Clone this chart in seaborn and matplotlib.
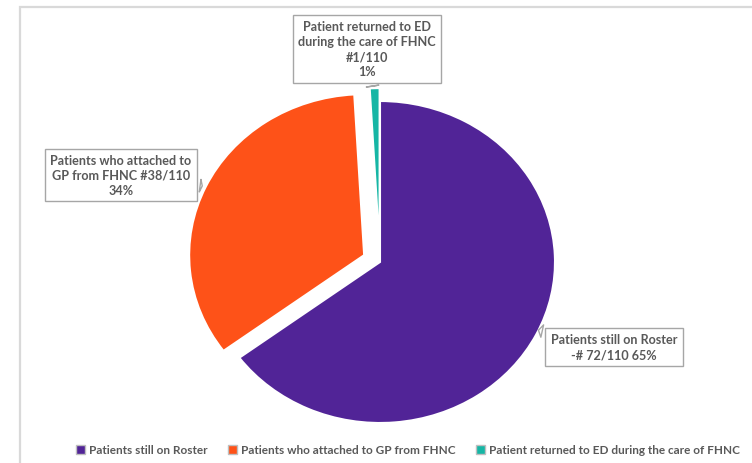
import matplotlib
matplotlib.use("Agg")
import matplotlib.pyplot as plt
import seaborn as sns
import numpy as np
from matplotlib.patches import Rectangle, Patch

# ---- data ----
categories = ["Patients still on Roster",
              "Patients who attached to GP from FHNC",
              "Patient returned to ED during the care of FHNC"]
values = [72, 38, 1]
label_texts = ["Patients still on Roster\n-# 72/110 65%",
               "Patients who attached to\nGP from FHNC #38/110\n34%",
               "Patient returned to ED\nduring the care of FHNC\n#1/110\n1%"]
colors = ["#512497", "#FE5218", "#16B6A5"]
explode = [0.0, 0.1, 0.08]

sns.set_theme(style="white")
plt.rcParams['font.family'] = ['Lato', 'DejaVu Sans']
TXT = "#595959"

W, H = 752, 464
fig = plt.figure(figsize=(W / 100, H / 100), dpi=100)

# chart frame
fig.patches.append(Rectangle((20 / W, -0.2), 1.2, 1 - 8 / H + 0.2, transform=fig.transFigure,
                             fill=False, ec="#D9D9D9", lw=1.6, zorder=0))

cx, cy = 380, H - 263
rx, ry = 175, 161
lim = 1.25
ax = fig.add_axes([(cx - lim * rx) / W, (cy - lim * ry) / H, 2 * lim * rx / W, 2 * lim * ry / H])
wedges, _ = ax.pie(values, colors=colors, startangle=90, counterclock=False,
                   explode=explode, wedgeprops=dict(edgecolor="white", linewidth=1.5))
ax.set_aspect("auto")
ax.set_xlim(-lim, lim)
ax.set_ylim(-lim, lim)
ax.axis("off")

# callouts
text_pos = [(614, H - 348), (121, H - 176), (367, H - 50)]
targets = [(0.89, -0.42), (-1.0, 0.47), (-0.04, 1.075)]
for lab, tp, tg in zip(label_texts, text_pos, targets):
    ax.annotate(lab, xy=tg, xycoords="data", xytext=tp, textcoords="figure pixels",
                ha="center", va="center", multialignment="center", linespacing=1.3,
                fontsize=9.1, fontweight="bold", color=TXT,
                bbox=dict(boxstyle="square,pad=0.42", fc="white", ec="#A6A6A6", lw=1),
                arrowprops=dict(arrowstyle="wedge,tail_width=1.0", fc="white", ec="#A6A6A6", lw=1),
                annotation_clip=False)

# legend
handles = [Patch(facecolor=c, edgecolor="#BFBFBF", linewidth=1) for c in colors]
leg = fig.legend(handles, categories, loc="center", bbox_to_anchor=(408 / W, 1 - 451 / H),
                 ncol=3, frameon=False, fontsize=8.5, handlelength=0.75, handleheight=0.75,
                 handletextpad=0.35, columnspacing=1.7)
for t in leg.get_texts():
    t.set_color(TXT)
    t.set_fontweight("bold")

fig.savefig("out.png", dpi=100)
